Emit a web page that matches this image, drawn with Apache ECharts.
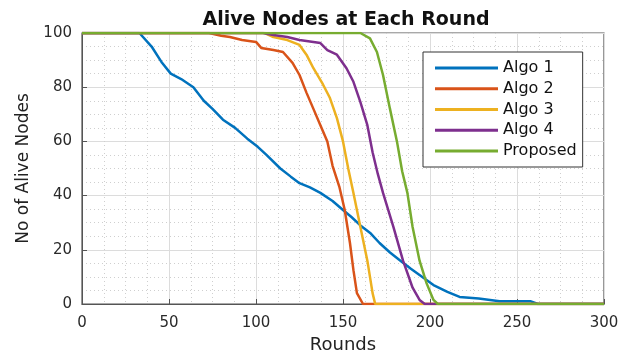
<!DOCTYPE html>
<html>
<head>
<meta charset="utf-8">
<script src="https://cdn.jsdelivr.net/npm/echarts@6/dist/echarts.min.js"></script>
<style>
  html, body { margin: 0; padding: 0; background: #fff; }
  #result { width: 634px; height: 360px; }
</style>
</head>
<body>
<div id="result"></div>
<script>
var seriesNames = ['Algo 1', 'Algo 2', 'Algo 3', 'Algo 4', 'Proposed'];
var colors = ['#0072BD', '#D95319', '#EDB120', '#7E2F8E', '#77AC30'];

// [round, alive nodes]
var algo1 = [[0, 100], [33, 100], [40, 95], [46, 89], [51, 85], [57, 83], [64, 80], [70, 75],
  [75, 72], [81, 68], [88, 65], [95, 61], [101, 58], [106, 55], [114, 50], [120, 47],
  [125, 44.6], [131, 43], [137, 41], [144, 38], [150, 34.7], [155, 32], [160, 29],
  [166, 26], [171, 22.5], [177, 19], [183, 16], [189, 13], [194, 10.7], [202, 7],
  [210, 4.5], [217, 2.6], [228, 2], [240, 1], [258, 1], [262, 0], [300, 0]];
var algo2 = [[0, 100], [73, 100], [80, 99], [85, 98.5], [92, 97.4], [100, 96.7], [103, 94.5],
  [110, 93.7], [115.5, 93], [121, 89], [125, 84.5], [129, 78], [133, 72], [137, 66],
  [141, 60], [144, 51], [148, 43], [151, 34.7], [154, 22.5], [156, 12.5], [158, 4],
  [161.5, 0], [300, 0]];
var algo3 = [[0, 100], [105, 100], [110, 98.5], [118, 97.4], [125, 95.6], [129, 92], [133, 87],
  [138.5, 81], [142.5, 76], [146.5, 68.6], [150, 60], [153, 50], [156, 41], [160, 28.4],
  [164, 16], [167, 4], [168.5, 0], [300, 0]];
var algo4 = [[0, 100], [104, 100], [110, 99.3], [118, 98.5], [125, 97.4], [137, 96.3], [141, 93.7],
  [146.5, 92], [152, 87], [156, 82], [160, 74.5], [164, 66], [167, 56], [170, 48],
  [173, 41], [179, 28.4], [184.5, 16], [190, 6], [194, 1.5], [197, 0], [300, 0]];
var proposed = [[0, 100], [160, 100], [165.5, 98], [169.5, 93], [173, 84.5], [177, 72], [181, 60],
  [184, 49], [187, 41], [190, 28.4], [194, 16], [198, 7.7], [202, 1.5], [204.5, 0], [300, 0]];
var allData = [algo1, algo2, algo3, algo4, proposed];

var myChart = echarts.init(document.getElementById('result'));

var option = {
  animation: false,
  textStyle: { fontFamily: 'DejaVu Sans, sans-serif' },
  title: {
    text: 'Alive Nodes at Each Round',
    left: 341,
    textAlign: 'center',
    top: 6,
    textStyle: { fontFamily: 'DejaVu Sans', fontSize: 19, fontWeight: 'bold', color: '#111' }
  },
  legend: {
    orient: 'vertical',
    left: 423,
    top: 52,
    padding: [8, 6, 8, 12],
    icon: 'rect',
    itemWidth: 63,
    itemHeight: 3,
    itemGap: 4.75,
    backgroundColor: '#fff',
    borderColor: '#333',
    borderWidth: 1,
    textStyle: { fontSize: 16, lineHeight: 16, color: '#111' },
    data: seriesNames
  },
  grid: {
    left: 82, right: 30, top: 33, bottom: 56,
    show: true, borderColor: '#555', borderWidth: 1.2
  },
  xAxis: {
    type: 'value', min: 0, max: 300, interval: 50,
    name: 'Rounds', nameLocation: 'middle', nameGap: 26,
    nameTextStyle: { fontSize: 18, color: '#222' },
    axisLine: { show: true, lineStyle: { color: '#555' } },
    axisTick: { show: true, inside: true, length: 5, lineStyle: { color: '#555' } },
    axisLabel: { fontSize: 15, color: '#2a2a2a', margin: 12 },
    splitLine: { show: true, lineStyle: { color: '#dcdcdc', width: 1 } },
    minorTick: { show: false, splitNumber: 4 },
    minorSplitLine: { show: true, lineStyle: { color: '#cfcfcf', type: [1, 3] } }
  },
  yAxis: {
    type: 'value', min: 0, max: 100, interval: 20,
    name: 'No of Alive Nodes', nameLocation: 'middle', nameGap: 45,
    nameTextStyle: { fontSize: 17, color: '#222' },
    axisLine: { show: true, lineStyle: { color: '#555' } },
    axisTick: { show: true, inside: true, length: 5, lineStyle: { color: '#555' } },
    axisLabel: { fontSize: 15, color: '#2a2a2a', margin: 10 },
    splitLine: { show: true, lineStyle: { color: '#dcdcdc', width: 1 } },
    minorTick: { show: false, splitNumber: 4 },
    minorSplitLine: { show: true, lineStyle: { color: '#cfcfcf', type: [1, 3] } }
  },
  series: seriesNames.map(function (name, i) {
    return {
      name: name,
      type: 'line',
      symbol: 'none',
      data: allData[i],
      color: colors[i],
      lineStyle: { width: 2.5, color: colors[i] },
      z: 2 + i
    };
  })
};

myChart.setOption(option);
</script>
</body>
</html>
